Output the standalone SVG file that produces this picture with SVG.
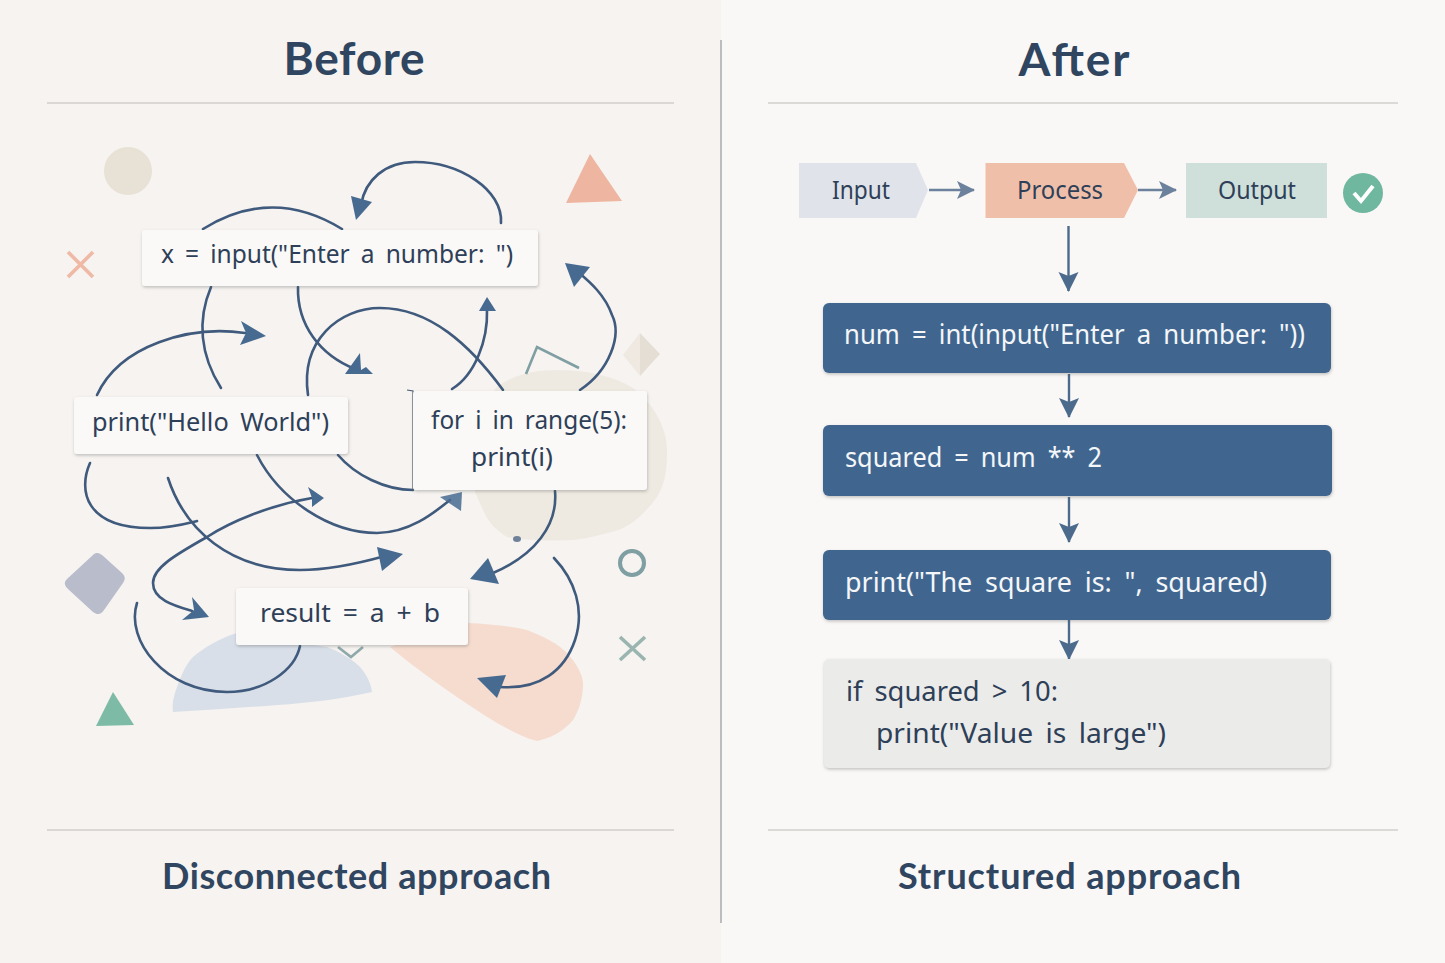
<svg xmlns="http://www.w3.org/2000/svg" width="1445" height="963" viewBox="0 0 1445 963">
<defs>
<filter id="sh" x="-10%" y="-20%" width="120%" height="150%"><feDropShadow dx="0.5" dy="1.5" stdDeviation="1.5" flood-color="#5a5a5a" flood-opacity="0.35"/></filter>
<marker id="ah" markerUnits="userSpaceOnUse" markerWidth="22" markerHeight="22" refX="17" refY="10" orient="auto"><path d="M0,1 L18,10 L0,19 L4,10 Z" fill="#6c819b"/></marker>
<marker id="av" markerUnits="userSpaceOnUse" markerWidth="24" markerHeight="22" refX="19" refY="11" orient="auto"><path d="M0,1 L20,11 L0,21 L4,11 Z" fill="#4b6a8c"/></marker>
</defs>
<style>
.title{font-family:"Lato","Noto Sans",sans-serif;font-weight:700;fill:#2f4560;text-anchor:middle}
.sub{font-family:"Lato","Noto Sans",sans-serif;font-weight:700;fill:#2f4560}
.code{font-family:"Noto Sans","DejaVu Sans",sans-serif;font-size:26px;fill:#2e4058;word-spacing:5px}
.wcode{font-family:"Noto Sans","DejaVu Sans",sans-serif;font-size:28px;fill:#f4f6f8;word-spacing:6px}
.flow{font-family:"Noto Sans","DejaVu Sans",sans-serif;font-size:26px;fill:#2e4058}
.card{fill:#faf9f7;filter:url(#sh)}
.blue{fill:#3f6690;filter:url(#sh)}
.rule{stroke:#bdbbb8;stroke-width:1.2;fill:none}
.c{fill:none;stroke:#3f5a7c;stroke-width:2.6;stroke-linecap:round}
.h{fill:#476a90}
.fa{fill:none;stroke:#6c819b;stroke-width:2.6}
.va{fill:none;stroke:#4b6a8c;stroke-width:2.4}
</style>
<rect width="1445" height="963" fill="#f9f8f7"/>
<rect width="721" height="963" fill="#f6f3f0"/>
<line x1="721" y1="40" x2="721" y2="923" stroke="#a9abae" stroke-width="1.5"/>
<g id="rules">
<line class="rule" x1="47" y1="103" x2="674" y2="103"/>
<line class="rule" x1="768" y1="103" x2="1398" y2="103"/>
<line class="rule" x1="47" y1="830" x2="674" y2="830"/>
<line class="rule" x1="768" y1="830" x2="1398" y2="830"/>
</g>
<g id="titles">
<text class="title" x="354" y="75" font-size="46" textLength="141" lengthAdjust="spacing">Before</text>
<text class="title" x="1074" y="76" font-size="46" textLength="111" lengthAdjust="spacing">After</text>
<text class="sub" x="162" y="889" font-size="36" textLength="389" lengthAdjust="spacing">Disconnected approach</text>
<text class="sub" x="898" y="889" font-size="36" textLength="343" lengthAdjust="spacing">Structured approach</text>
</g>
<g id="decor">
<path d="M475,492 C470,450 490,392 497,387 C515,374 535,370 557,370 C590,370 615,377 633,388 C655,405 668,430 667,453 C667,475 663,487 657,497 C640,520 625,530 607,533 C590,538 575,540 573,540 C550,541 525,540 507,537 C495,530 487,520 483,510 Z" fill="#eeeae1"/>
<path d="M390,647 L467,623 C490,624 510,626 527,630 C545,637 558,644 567,653 C578,665 584,677 583,687 C582,702 578,712 573,720 C562,733 550,738 537,741 C522,737 510,730 497,723 C460,700 420,672 390,647 Z" fill="#f6dccf"/>
<path d="M173,712 C172,705 173,700 175,693 C180,678 185,665 193,657 C205,647 220,638 237,633 L327,647 C340,652 352,659 360,667 C367,675 371,684 372,692 C340,699 310,703 277,705 C240,708 205,710 173,712 Z" fill="#d8dfe8"/>
<circle cx="128" cy="171" r="24" fill="#e8e1d5"/>
<polygon points="590,154 566,203 622,201" fill="#eeb5a0"/>
<path d="M68,252 L93,277 M93,252 L68,277" stroke="#efb9a5" stroke-width="3.6" fill="none"/>
<polygon points="640,333 660,354 640,376" fill="#e4ded5"/>
<polygon points="640,333 623,355 640,376" fill="#efe9e2"/>
<path d="M526,374 L537,347 L579,368" stroke="#7f9fa3" stroke-width="2.6" fill="none"/>
<path d="M93,555 C96,552 99,553 102,555 L122,573 C126,577 125,580 123,583 L104,610 C101,615 97,615 93,612 L68,589 C64,585 64,582 67,579 Z" fill="#b8bccb"/>
<polygon points="113,692 96,726 134,725" fill="#7dbba6"/>
<circle cx="632" cy="563" r="12" fill="none" stroke="#7f9fa3" stroke-width="4"/>
<path d="M620,637 L645,660 M645,637 L620,660" stroke="#9ab5b0" stroke-width="3.6" fill="none"/>
<path d="M338,647 L351,657 L363,647" stroke="#8fa9aa" stroke-width="2.6" fill="none"/>
<ellipse cx="517" cy="539" rx="4" ry="3" fill="#6d8199"/>
</g>
<g id="connectors">
<path class="c" d="M203,229 Q272,186 342,229"/>
<path class="c" d="M501,223 C503,190 460,162 415,162 C385,162 365,180 361,205"/>
<polygon class="h" points="356,220 351,196 372,202"/>
<path class="c" d="M97,395 C120,345 190,325 245,333"/>
<polygon class="h" points="266,336 241,321 246,333 240,345"/>
<path class="c" d="M211,287 C197,320 200,355 221,388"/>
<path class="c" d="M298,287 C297,325 320,355 355,369"/>
<polygon class="h" points="360,353 345,374 373,374 366,367 361,370"/>
<path class="c" d="M308,395 C300,340 340,308 380,308 C430,308 470,345 503,390"/>
<path class="c" d="M452,389 C475,375 488,340 487,310"/>
<polygon class="h" points="487,297 479,311 496,311"/>
<path class="c" d="M580,390 C610,370 622,335 612,315 C605,295 590,282 578,272"/>
<polygon class="h" points="565,263 590,267 574,287"/>
<path class="c" d="M90,463 C78,490 85,528 150,528 C170,528 185,524 197,521"/>
<path class="c" d="M168,478 C185,530 230,570 300,570 C330,570 360,563 385,556"/>
<polygon class="h" points="403,554 377,547 382,571"/>
<path class="c" d="M257,455 C280,500 330,533 377,533 C410,533 435,512 450,500"/>
<polygon class="h" fill-opacity="0.85" points="462,492 440,497 461,511"/>
<path class="c" d="M338,455 C355,475 385,490 413,490"/>
<path class="c" d="M312,498 C270,505 230,522 207,537 C175,555 153,568 153,583 C153,600 175,606 192,611"/>
<polygon class="h" points="324,498 308,487 312,498 312,507"/>
<polygon class="h" points="209,617 192,597 194,610 182,620"/>
<path class="c" d="M137,603 C125,640 165,692 227,692 C265,692 295,670 300,646"/>
<path class="c" d="M555,491 C558,525 535,555 493,573"/>
<polygon class="h" points="470,579 488,558 499,584"/>
<path class="c" d="M554,558 C575,580 585,610 575,640 C565,670 540,690 500,687"/>
<polygon class="h" points="477,678 506,675 497,698"/>
<path class="fa" marker-end="url(#ah)" d="M929,190 L974,190"/>
<path class="fa" marker-end="url(#ah)" d="M1138,190 L1176,190"/>
<path class="va" marker-end="url(#av)" d="M1068.5,226 L1068.5,291"/>
<path class="va" marker-end="url(#av)" d="M1069,374 L1069,417"/>
<path class="va" marker-end="url(#av)" d="M1069,497 L1069,542"/>
<path class="va" marker-end="url(#av)" d="M1069,620 L1069,659"/>
</g>
<g id="node-x">
<rect class="card" x="142" y="230" width="396" height="56" rx="3"/>
<text class="code" x="161" y="263" textLength="352" lengthAdjust="spacingAndGlyphs">x = input("Enter a number: ")</text>
</g>
<g id="node-print">
<rect class="card" x="74" y="397" width="274" height="57" rx="3"/>
<text class="code" x="92" y="431" textLength="237" lengthAdjust="spacingAndGlyphs">print("Hello World")</text>
</g>
<g id="node-for">
<path d="M407,390 L413,391 L413,490" fill="none" stroke="#4a5d75" stroke-width="1.2"/>
<rect class="card" x="413" y="391" width="234" height="99" rx="3"/>
<text class="code" x="431" y="429" textLength="196" lengthAdjust="spacingAndGlyphs">for i in range(5):</text>
<text class="code" x="471" y="466" textLength="82" lengthAdjust="spacingAndGlyphs">print(i)</text>
</g>
<g id="node-result">
<rect class="card" x="236" y="588" width="232" height="57" rx="3"/>
<text class="code" x="260" y="622" textLength="180" lengthAdjust="spacingAndGlyphs">result = a + b</text>
</g>
<g id="node-input">
<polygon points="799,163 916,163 928,190 916,218 799,218" fill="#e0e4ea"/>
<text class="flow" x="832" y="199" textLength="58" lengthAdjust="spacingAndGlyphs">Input</text>
</g>
<g id="node-process">
<polygon points="985.500,163 1124,163 1138,190 1124,218 985.500,218" fill="#f0bfa9"/>
<text class="flow" x="1017" y="199" textLength="86" lengthAdjust="spacingAndGlyphs">Process</text>
</g>
<g id="node-output">
<rect x="1186" y="163" width="141" height="55" fill="#cfe0da"/>
<text class="flow" x="1218" y="199" textLength="78" lengthAdjust="spacingAndGlyphs">Output</text>
</g>
<g id="node-check">
<circle cx="1363" cy="193" r="20" fill="#6fb79f"/>
<path d="M1354,193 L1361,201 L1373,186" fill="none" stroke="#fff" stroke-width="4"/>
</g>
<g id="node-num">
<rect class="blue" x="823" y="303" width="508" height="70" rx="6"/>
<text class="wcode" x="844" y="344" textLength="461" lengthAdjust="spacingAndGlyphs">num = int(input("Enter a number: "))</text>
</g>
<g id="node-squared">
<rect class="blue" x="823" y="425" width="509" height="71" rx="6"/>
<text class="wcode" x="845" y="467" textLength="257" lengthAdjust="spacingAndGlyphs">squared = num ** 2</text>
</g>
<g id="node-printsq">
<rect class="blue" x="823" y="550" width="508" height="70" rx="6"/>
<text class="wcode" x="845" y="592" textLength="422" lengthAdjust="spacingAndGlyphs">print("The square is: ", squared)</text>
</g>
<g id="node-if">
<rect x="824" y="659" width="506" height="109" rx="5" fill="#ebebea" filter="url(#sh)"/>
<text class="code" style="font-size:28px" x="846" y="701" textLength="212" lengthAdjust="spacingAndGlyphs">if squared &gt; 10:</text>
<text class="code" style="font-size:28px" x="876" y="743" textLength="290" lengthAdjust="spacingAndGlyphs">print("Value is large")</text>
</g>
</svg>
